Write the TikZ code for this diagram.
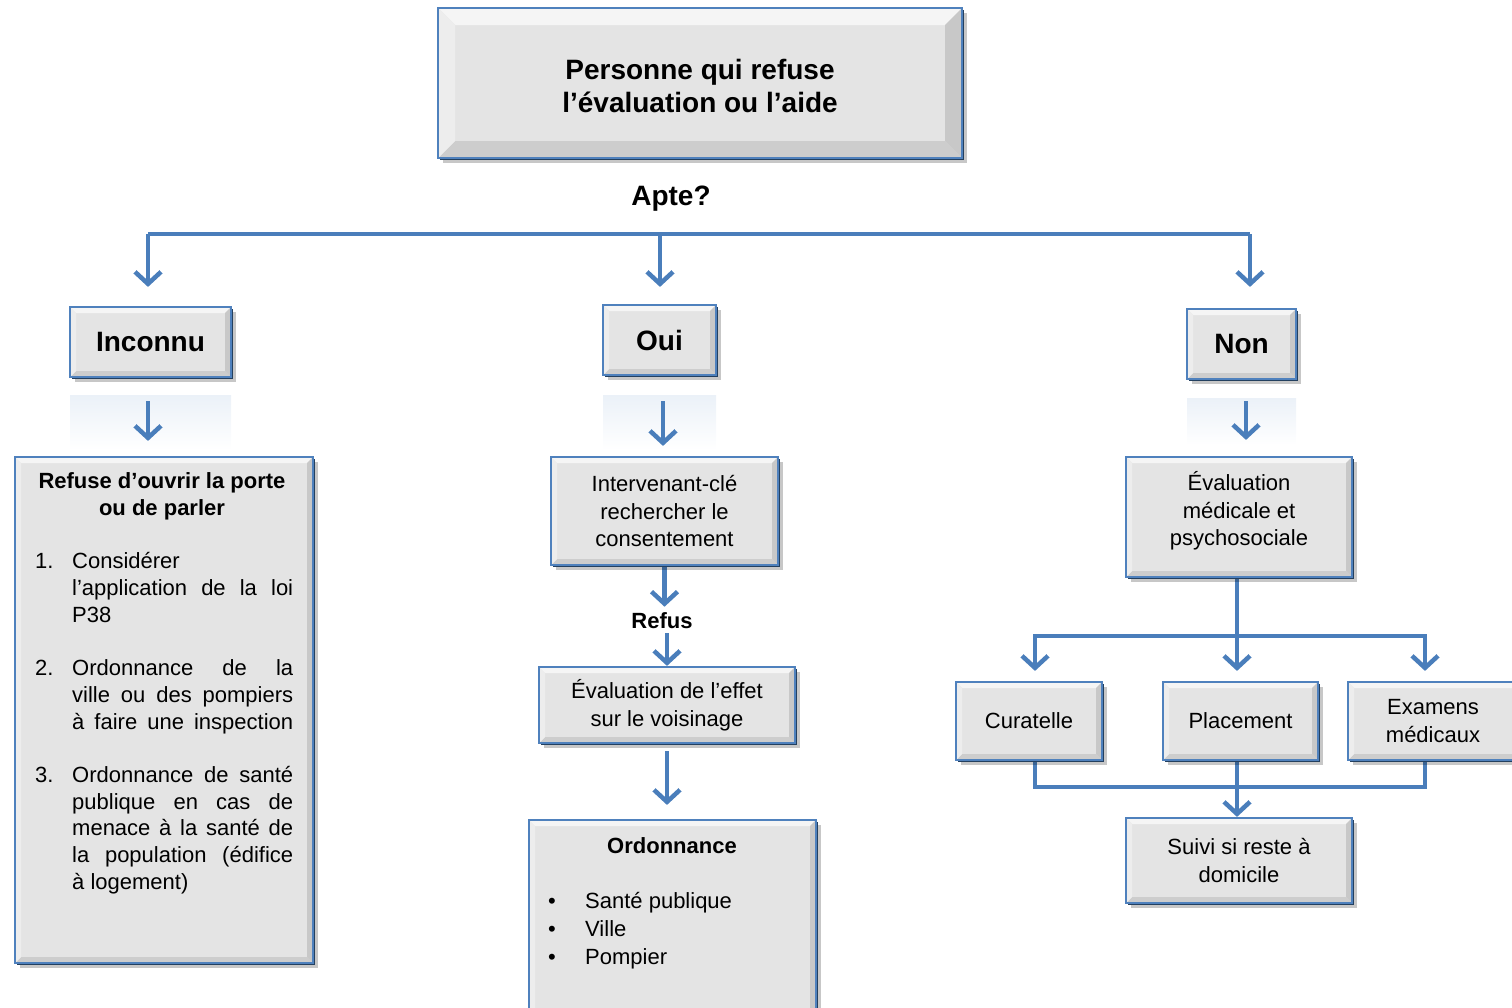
\documentclass[tikz,border=0pt]{standalone}
\usepackage{fontspec}
\setmainfont{Liberation Sans}
\usetikzlibrary{arrows.meta,shadows,calc}
\definecolor{arrowblue}{HTML}{4A7EBB}
\definecolor{boxblue}{HTML}{4F81BD}
\definecolor{boxfill}{HTML}{E4E4E4}
\definecolor{bevlight}{HTML}{F5F5F5}
\definecolor{bevleft}{HTML}{EDEDED}
\definecolor{bevright}{HTML}{C8C8C8}
\definecolor{bevbottom}{HTML}{CDCDCD}
\definecolor{shadowc}{HTML}{24405F}
\definecolor{reflc}{HTML}{EBF1F8}
\newcommand\ftTitle{\fontsize{28}{33}\selectfont\bfseries}
\newcommand\ftBody{\fontsize{22}{27.5}\selectfont}
\newcommand\ftBodyB{\fontsize{22}{27}\selectfont\bfseries}
\def\bev{6pt}
\pgfdeclarelayer{bg}
\pgfsetlayers{bg,main}
\tikzset{
  bev/.store in=\bev,
  bx/.style={draw=boxblue, line width=2.2pt, fill=boxfill, inner sep=0pt,
    align=center, font=\ftBody,
    drop shadow={shadow xshift=4.5pt, shadow yshift=-4.5pt, fill=black, opacity=0.22},
    drop shadow={shadow xshift=1.8pt, shadow yshift=-1.8pt, fill=shadowc, opacity=1},
    path picture={
      \fill[bevlight] (path picture bounding box.north west) -- (path picture bounding box.north east)
        -- ([xshift=-\bev,yshift=-\bev]path picture bounding box.north east)
        -- ([xshift=\bev,yshift=-\bev]path picture bounding box.north west) -- cycle;
      \fill[bevbottom] (path picture bounding box.south west) -- (path picture bounding box.south east)
        -- ([xshift=-\bev,yshift=\bev]path picture bounding box.south east)
        -- ([xshift=\bev,yshift=\bev]path picture bounding box.south west) -- cycle;
      \fill[bevleft] (path picture bounding box.north west) -- (path picture bounding box.south west)
        -- ([xshift=\bev,yshift=\bev]path picture bounding box.south west)
        -- ([xshift=\bev,yshift=-\bev]path picture bounding box.north west) -- cycle;
      \fill[bevright] (path picture bounding box.north east) -- (path picture bounding box.south east)
        -- ([xshift=-\bev,yshift=\bev]path picture bounding box.south east)
        -- ([xshift=-\bev,yshift=-\bev]path picture bounding box.north east) -- cycle;
    }},
  ln/.style={draw=arrowblue, line width=4.5pt},
  arr/.style={ln, -{Straight Barb[length=12pt,width=26pt]}},
  lbl/.style={inner sep=2pt}
}
\begin{document}
\begin{tikzpicture}[x=1pt,y=-1pt]
\useasboundingbox (0,0) rectangle (1512,1007);
\clip (0,0) rectangle (1512,1007);

% boxes
\node[bx, bev=17pt, minimum width=524pt, minimum height=150pt] (top) at (700,83) {};
\node[lbl, font=\ftTitle, align=center] (toptext) at (700,86)
  {Personne qui refuse\\l’évaluation ou l’aide};
\node[lbl, font=\ftTitle] (apte) at (671,199) {Apte?};

\node[bx, minimum width=161pt, minimum height=70pt, font=\ftTitle] (inconnu) at (150.5,342) {Inconnu};
\node[bx, minimum width=113pt, minimum height=70pt, font=\ftTitle] (oui) at (659.5,340) {Oui};
\node[bx, minimum width=109pt, minimum height=70pt, font=\ftTitle] (non) at (1241.5,344) {Non};

\node[bx, minimum width=298pt, minimum height=506pt] (left) at (164,710) {};
\node[lbl, font=\ftBodyB, align=center] (lefttitle) at (162,496) {Refuse d’ouvrir la porte\\ou de parler};
\node[inner sep=0pt, anchor=north west, font=\ftBody] (leftlist) at (35,550)
 {\fontsize{22}{26.7}\selectfont
  \begin{tabular}{@{}p{37pt}@{}l@{}}
  1. & Considérer\\
     & \makebox[221pt][s]{l’application de la loi}\\
     & P38\\
     & \\
  2. & \makebox[221pt][s]{Ordonnance de la}\\
     & \makebox[221pt][s]{ville ou des pompiers}\\
     & \makebox[221pt][s]{à faire une inspection}\\
     & \\
  3. & \makebox[221pt][s]{Ordonnance de santé}\\
     & \makebox[221pt][s]{publique en cas de}\\
     & \makebox[221pt][s]{menace à la santé de}\\
     & \makebox[221pt][s]{la population (édifice}\\
     & à logement)
  \end{tabular}};

\node[bx, minimum width=227pt, minimum height=108pt] (interv) at (664.5,511)
  {Intervenant-clé\\rechercher le\\consentement};
\node[lbl, font=\ftBodyB] (refus) at (662,621) {Refus};
\node[bx, minimum width=256pt, minimum height=76pt] (effet) at (667,705)
  {Évaluation de l’effet\\sur le voisinage};
\node[bx, minimum width=287pt, minimum height=195pt] (ordo) at (672.5,917.5) {};
\node[lbl, font=\ftBodyB] (ordotitle) at (672,846) {Ordonnance};
\node[inner sep=0pt, anchor=north west, font=\ftBody] (ordolist) at (548,889)
 {\fontsize{22}{28}\selectfont
  \begin{tabular}{@{}p{37pt}@{}l@{}}
  \textbullet & Santé publique\\
  \textbullet & Ville\\
  \textbullet & Pompier
  \end{tabular}};

\node[bx, minimum width=226pt, minimum height=120pt] (evmed) at (1239,517) {};
\node[lbl, font=\ftBody, align=center] (evmedtext) at (1239,511)
  {Évaluation\\médicale et\\psychosociale};
\node[bx, minimum width=146pt, minimum height=78pt] (curat) at (1029,721) {Curatelle};
\node[bx, minimum width=155pt, minimum height=78pt] (place) at (1240.5,721) {Placement};
\node[bx, minimum width=170pt, minimum height=78pt] (exam) at (1433,721) {Examens\\médicaux};
\node[bx, minimum width=226pt, minimum height=85pt] (suivi) at (1239,860.5) {Suivi si reste à\\domicile};

\coordinate (hL) at (148,234);
\coordinate (hM) at (660,234);
\coordinate (hR) at (1250,234);
\coordinate (jr) at (1237,636);
\coordinate (jb) at (1237,787);

\begin{pgfonlayer}{bg}
  % reflections
  \shade[top color=reflc, bottom color=white] (70,395) rectangle (231,450);
  \shade[top color=reflc, bottom color=white] (603,395) rectangle (716,450);
  \shade[top color=reflc, bottom color=white] (1187,398) rectangle (1296,445);

  % top branch
  \draw[ln] (hL) -- (hR);
  \draw[arr, shorten >=19pt] (hL) -- (hL |- inconnu.north);
  \draw[arr, shorten >=17pt] (hM) -- (hM |- oui.north);
  \draw[arr, shorten >=21pt] (hR) -- (hR |- non.north);

  % second level
  \draw[arr, shorten <=23pt, shorten >=15pt] ([xshift=-2.5pt]inconnu.south) -- ([xshift=-2.5pt]inconnu.south |- left.north);
  \draw[arr, shorten <=25pt, shorten >=10pt] ([xshift=3.5pt]oui.south) -- ([xshift=3.5pt]oui.south |- interv.north);
  \draw[arr, shorten <=21pt, shorten >=16pt] ([xshift=4.5pt]non.south) -- ([xshift=4.5pt]non.south |- evmed.north);

  % middle column
  \draw[arr, shorten >=4pt] (interv.south) -- (interv.south |- refus.north);
  \draw[arr, shorten <=2pt] (effet.north |- refus.south) -- (effet.north);
  \draw[arr, shorten <=7pt, shorten >=14pt] (effet.south) -- (effet.south |- ordo.north);

  % right column
  \draw[ln] (jr |- evmed.south) -- (jr);
  \draw[arr, shorten >=10pt] (jr) -| ([xshift=6pt]curat.north);
  \draw[arr, shorten >=10pt] (jr) -| ([xshift=-8pt]exam.north);
  \draw[arr, shorten >=10pt] (jr) -- (jr |- place.north);
  \draw[ln] ([xshift=6pt]curat.south) |- (jb) -| ([xshift=-8pt]exam.south);
  \draw[arr] (jb |- place.south) -- (jb |- suivi.north);
\end{pgfonlayer}
\end{tikzpicture}
\end{document}
